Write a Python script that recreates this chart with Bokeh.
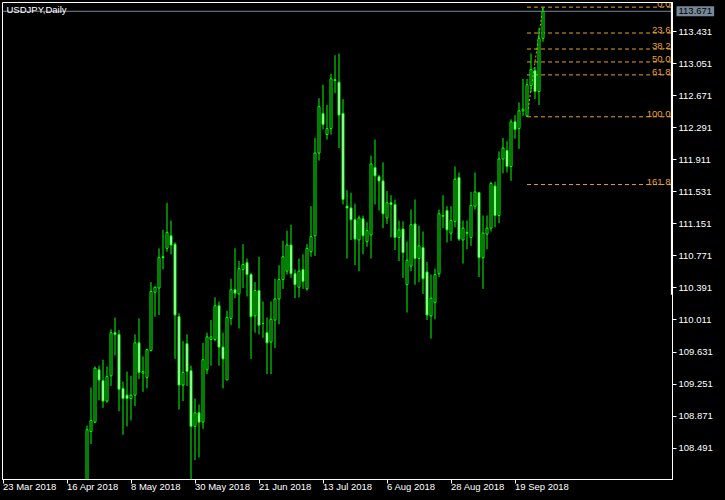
from bokeh.plotting import figure
from bokeh.models import (Range1d, LinearAxis, FixedTicker, Span, Label,
                          ColumnDataSource, PrintfTickFormatter, GlobalInlineStyleSheet)
from bokeh.core.properties import value
from bokeh.embed import file_html
from bokeh.resources import INLINE

# ---------------- data ----------------
chart_title = "USDJPY,Daily"
first_bar_index = 21          # bar number (0 = 23 Mar 2018) of the first candle listed below

opens = [107.95, 108.69, 108.80, 109.42, 109.29, 109.05, 109.35, 109.86, 109.84, 109.20,
         109.12, 109.08, 109.12, 109.74, 109.38, 109.33, 109.65, 110.34, 110.39, 110.76,
         110.86, 111.01, 110.91, 110.05, 109.24, 109.73, 109.41, 108.75, 108.91, 108.80,
         109.42, 109.78, 109.78, 110.18, 109.69, 109.30, 110.03, 110.37, 110.32, 110.61,
         110.69, 110.55, 110.06, 110.36, 109.97, 109.86, 109.75, 110.01, 110.26, 110.49,
         110.59, 110.90, 110.56, 110.40, 110.61, 110.38, 110.82, 111.01, 111.99, 112.46,
         112.21, 112.28, 112.86, 112.83, 112.46, 111.36, 111.34, 111.20, 110.96, 111.21,
         110.94, 111.02, 111.82, 111.71, 111.66, 111.22, 111.40, 111.38, 110.99, 111.09,
         110.43, 110.65, 111.15, 110.74, 110.87, 110.58, 110.06, 110.22, 110.56, 111.24,
         111.31, 111.04, 111.18, 111.70, 110.96, 111.05, 110.99, 111.36, 111.52, 110.75,
         111.03, 111.10, 111.60, 111.25, 111.92, 112.02, 111.83, 112.36, 112.28, 112.49,
         112.43, 112.79, 112.97, 112.72, 113.35]
highs = [108.76, 109.21, 109.46, 109.47, 109.54, 109.46, 109.90, 110.04, 109.89, 109.28,
         109.40, 109.35, 109.84, 110.03, 109.58, 109.67, 110.46, 110.41, 110.86, 111.08,
         111.40, 111.19, 110.93, 110.09, 109.76, 109.84, 109.47, 109.08, 109.01, 109.74,
         109.86, 110.01, 110.28, 110.23, 109.86, 110.12, 110.50, 110.86, 110.71, 110.91,
         110.74, 110.57, 110.46, 110.76, 110.23, 110.04, 110.23, 110.50, 110.66, 110.95,
         111.07, 111.14, 110.61, 110.74, 110.79, 110.91, 111.36, 112.17, 112.64, 112.80,
         112.56, 112.93, 113.15, 113.17, 112.63, 111.55, 111.52, 111.39, 111.25, 111.25,
         111.17, 111.96, 112.15, 111.73, 111.88, 111.54, 111.49, 111.44, 111.19, 111.18,
         110.94, 111.32, 111.44, 111.13, 111.06, 110.70, 110.55, 110.62, 111.32, 111.49,
         111.36, 111.36, 111.83, 111.76, 111.19, 111.19, 111.53, 111.76, 111.53, 111.25,
         111.25, 111.65, 111.65, 112.01, 112.17, 112.13, 112.39, 112.44, 112.59, 112.87,
         112.87, 113.17, 113.01, 113.47, 113.72]
lows = [107.80, 108.54, 108.79, 109.06, 108.97, 109.03, 109.23, 109.59, 108.93, 108.65,
        108.75, 108.82, 108.99, 109.31, 109.16, 109.20, 109.64, 110.05, 110.07, 110.61,
        110.82, 110.79, 109.55, 108.95, 109.05, 109.23, 108.11, 108.35, 108.38, 108.72,
        109.37, 109.47, 109.76, 109.47, 109.20, 109.30, 109.95, 110.27, 109.91, 110.39,
        110.29, 109.55, 109.86, 109.84, 109.80, 109.37, 109.37, 109.68, 109.96, 110.38,
        110.55, 110.51, 110.27, 110.28, 110.38, 110.36, 110.76, 110.77, 111.90, 112.27,
        112.15, 112.21, 112.70, 112.05, 111.38, 110.74, 110.96, 110.66, 110.59, 110.79,
        110.88, 110.74, 111.38, 111.31, 111.10, 111.15, 110.99, 110.84, 110.71, 110.51,
        110.10, 110.59, 110.43, 110.46, 110.32, 110.01, 109.79, 110.02, 110.52, 111.10,
        110.93, 110.95, 111.11, 110.95, 110.68, 110.85, 110.89, 111.32, 110.52, 110.38,
        110.85, 111.06, 111.11, 111.16, 111.75, 111.76, 111.66, 112.16, 112.04, 112.43,
        112.42, 112.71, 112.63, 112.56, 113.31]
closes = [108.71, 108.82, 109.44, 109.30, 109.05, 109.34, 109.86, 109.84, 109.19, 109.08,
          109.08, 109.12, 109.74, 109.39, 109.40, 109.66, 110.35, 110.40, 110.75, 110.75,
          111.05, 110.90, 110.07, 109.24, 109.39, 109.40, 108.75, 108.91, 108.80, 109.54,
          109.81, 109.81, 110.18, 109.69, 109.55, 110.04, 110.37, 110.33, 110.62, 110.67,
          110.55, 110.05, 110.36, 109.95, 109.97, 109.74, 110.02, 110.26, 110.49, 110.76,
          110.90, 110.56, 110.43, 110.59, 110.47, 110.86, 111.00, 111.99, 112.54, 112.33,
          112.28, 112.87, 112.85, 112.44, 111.44, 111.34, 111.20, 110.97, 111.22, 111.01,
          111.07, 111.86, 111.72, 111.66, 111.27, 111.40, 111.38, 110.99, 111.08, 110.81,
          110.72, 111.14, 110.74, 110.89, 110.50, 110.07, 110.27, 110.55, 111.27, 111.25,
          111.08, 111.19, 111.68, 110.97, 111.10, 111.04, 111.37, 111.53, 110.75, 111.04,
          111.10, 111.63, 111.25, 111.92, 112.05, 111.83, 112.36, 112.27, 112.49, 112.51,
          112.80, 112.98, 112.72, 113.35, 113.671]

date_tick_index = [0, 16, 32, 48, 64, 80, 96, 112, 128]
date_tick_labels = ["23 Mar 2018", "16 Apr 2018", "8 May 2018", "30 May 2018", "21 Jun 2018",
                    "13 Jul 2018", "6 Aug 2018", "28 Aug 2018", "19 Sep 2018"]
price_ticks = [108.491, 108.871, 109.251, 109.631, 110.011, 110.391, 110.771, 111.151,
               111.531, 111.911, 112.291, 112.671, 113.051, 113.431]
bid_price = 113.671
fib_levels = [0.0, 23.6, 38.2, 50.0, 61.8, 100.0, 161.8]
fib_low_bar = 131
fib_high_bar = 135
scroll_mark_price = 110.31

# ---------------- styling ----------------
GREEN = "#00FF00"
FIB = "#E6A028"
BID = "#778899"
FONT = "Liberation Sans"
FS = "9.5px"

X_START, X_END = -0.125, 167.375
Y_START, Y_END = 108.12, 113.775

p = figure(frame_width=670, frame_height=477,
           x_range=Range1d(X_START, X_END), y_range=Range1d(Y_START, Y_END),
           output_backend="svg", toolbar_location=None,
           x_axis_location=None, y_axis_location=None,
           background_fill_color="black", border_fill_color="black",
           outline_line_color="white", outline_line_width=1,
           min_border_left=2, min_border_top=2, min_border_right=0, min_border_bottom=0)
p.grid.visible = False
p.stylesheets = [GlobalInlineStyleSheet(css="html,body{margin:0;padding:0;background:#000;}")]

xaxis = LinearAxis(ticker=FixedTicker(ticks=date_tick_index),
                   major_label_overrides={t: l for t, l in zip(date_tick_index, date_tick_labels)},
                   axis_line_color="white", major_tick_line_color="white",
                   major_tick_out=4, major_tick_in=0, minor_tick_line_color=None,
                   major_label_text_color="white", major_label_text_font=FONT,
                   major_label_text_font_size=FS, major_label_standoff=3,
                   major_label_orientation=-1e-6)
p.add_layout(xaxis, "below")

yaxis = LinearAxis(ticker=FixedTicker(ticks=price_ticks),
                   formatter=PrintfTickFormatter(format="%.3f"),
                   axis_line_color="white", major_tick_line_color="white",
                   major_tick_out=4, major_tick_in=0, minor_tick_line_color=None,
                   major_label_text_color="white", major_label_text_font=FONT,
                   major_label_text_font_size=FS, major_label_standoff=2)
p.add_layout(yaxis, "right")

# bid line
p.add_layout(Span(location=bid_price, dimension="width", line_color=BID, line_width=1, level="underlay"))

# fibonacci retracement
fib_hi = highs[fib_high_bar - first_bar_index]
fib_lo = lows[fib_low_bar - first_bar_index]
fib_prices = [fib_hi - lv / 100.0 * (fib_hi - fib_lo) for lv in fib_levels]
fib_src = ColumnDataSource(dict(x0=[fib_low_bar] * len(fib_levels), x1=[X_END] * len(fib_levels),
                                y=fib_prices, txt=[f"{lv:.1f}" for lv in fib_levels],
                                tx=[X_END] * len(fib_levels)))
p.segment(x0="x0", y0="y", x1="x1", y1="y", source=fib_src, line_color=FIB,
          line_width=1, line_dash="4 3")
p.text(x="tx", y="y", text="txt", source=fib_src, text_color=FIB, text_align="right",
       text_baseline="alphabetic", x_offset=-2, y_offset=-3,
       text_font=value(FONT), text_font_size=FS)
p.line(x=[fib_low_bar, fib_high_bar], y=[fib_lo, fib_hi], line_color=FIB, line_width=1,
       line_dash="2 2")

# candles
xs = list(range(first_bar_index, first_bar_index + len(opens)))
src = ColumnDataSource(dict(
    x=xs, high=highs, low=lows,
    top=[max(o, c) for o, c in zip(opens, closes)],
    bottom=[min(o, c) for o, c in zip(opens, closes)],
    fill=["black" if c > o else "white" for o, c in zip(opens, closes)],
))
p.segment(x0="x", y0="low", x1="x", y1="high", source=src, line_color=GREEN, line_width=1)
p.vbar(x="x", width=0.5, top="top", bottom="bottom", source=src,
       fill_color="fill", line_color=GREEN, line_width=1)

# white marker on the price scale edge (inside part)
p.quad(left=[X_END - 0.4], right=[X_END], bottom=[scroll_mark_price], top=[Y_END],
       fill_color="white", line_color=None)

# bid price tag on the price scale, and chart title
bid_tag = Label(x=X_END, y=bid_price, x_offset=4, text=f"{bid_price:.3f}",
                text_color="black", text_font=FONT, text_font_size=FS,
                text_baseline="middle", background_fill_color=BID, background_fill_alpha=1.0,
                padding=2)
p.add_layout(bid_tag, "right")
p.add_layout(Label(x=X_START, y=Y_END, x_offset=4, y_offset=-1, text=chart_title,
                   text_color="white", text_font=FONT, text_font_size=FS, text_baseline="top"))

open("out.html", "w").write(file_html(p, INLINE))
